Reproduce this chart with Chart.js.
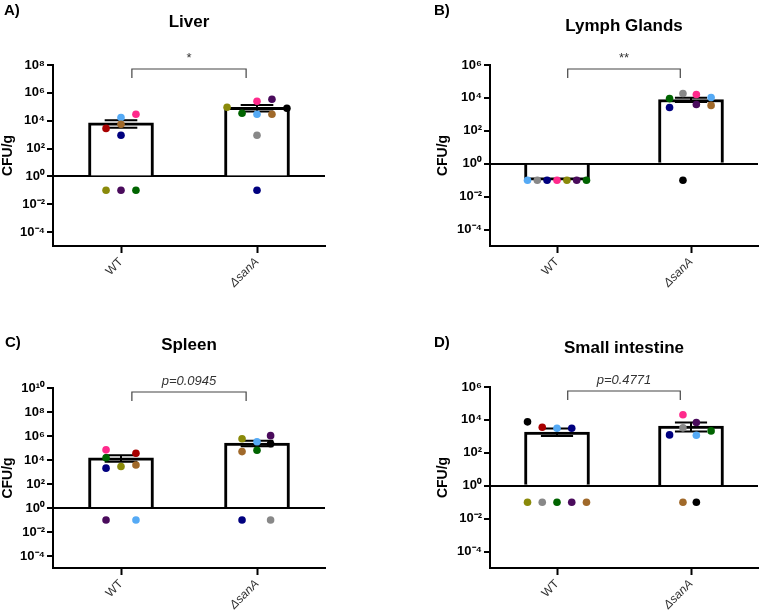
<!DOCTYPE html>
<html>
<head>
<title>CFU per organ</title>
<script src="https://cdn.jsdelivr.net/npm/chart.js"></script>
<style>
  body { margin: 0; background: #fff; }
  .panel { position: absolute; }
</style>
</head>
<body>
<div class="panel" style="left:0;top:0"><canvas id="liver" width="381" height="300"></canvas></div>
<div class="panel" style="left:381px;top:0"><canvas id="lymph" width="381" height="300"></canvas></div>
<div class="panel" style="left:0;top:300px"><canvas id="spleen" width="381" height="316"></canvas></div>
<div class="panel" style="left:381px;top:300px"><canvas id="intestine" width="381" height="316"></canvas></div>
<script>
const groups = ['WT', 'ΔsanA'];

// one colour per mouse
const mouseColors = {
    red: '#a80000', sky: '#55aaf5', pink: '#ff2a8c', brown: '#a0692a', navy: '#00007f',
    olive: '#8a8a0a', purple: '#4a0b5c', green: '#006400', grey: '#888888', black: '#000000'
};

// Liver
const liverWT = [2800, 17000, 29000, 5500, 900, 0.1, 0.1, 0.1];
const liverWTMice = ['red', 'sky', 'pink', 'brown', 'navy', 'olive', 'purple', 'green'];
const liverWTJitter = [-0.11, 0, 0.11, 0, 0, -0.11, 0, 0.11];
const liverKO = [92000, 34000, 250000, 29000, 900, 0.1, 350000, 29000, 78000];
const liverKOMice = ['olive', 'green', 'pink', 'sky', 'grey', 'navy', 'purple', 'brown', 'black'];
const liverKOJitter = [-0.22, -0.11, 0, 0, 0, 0, 0.11, 0.11, 0.22];
const liverMeans = [6900, 90000];
const liverSemLow = [3150, 46000];
const liverSemHigh = [10650, 134000];
const liverTicks = [1e-4, 1e-2, 1, 1e2, 1e4, 1e6, 1e8];

// Lymph glands
const lymphWT = [0.1, 0.1, 0.1, 0.1, 0.1, 0.1, 0.1];
const lymphWTMice = ['sky', 'grey', 'navy', 'pink', 'olive', 'purple', 'green'];
const lymphWTJitter = [-0.22, -0.147, -0.074, 0, 0.074, 0.147, 0.22];
const lymphKO = [9100, 2600, 18500, 0.1, 16000, 4000, 10500, 3500];
const lymphKOMice = ['green', 'navy', 'grey', 'black', 'pink', 'purple', 'sky', 'brown'];
const lymphKOJitter = [-0.16, -0.16, -0.06, -0.06, 0.04, 0.04, 0.15, 0.15];
const lymphMeans = [0.1, 8025];
const lymphSemLow = [null, 5670];
const lymphSemHigh = [null, 10400];
const lymphTicks = [1e-4, 1e-2, 1, 1e2, 1e4, 1e6];

// Spleen
const spleenWT = [70000, 36000, 15500, 3800, 2900, 2100, 0.1, 0.1];
const spleenWTMice = ['pink', 'red', 'green', 'brown', 'olive', 'navy', 'purple', 'sky'];
const spleenWTJitter = [-0.11, 0.11, -0.11, 0.11, 0, -0.11, -0.11, 0.11];
const spleenKO = [590000, 50000, 0.1, 330000, 65000, 1070000, 225000, 0.1];
const spleenKOMice = ['olive', 'brown', 'navy', 'sky', 'green', 'purple', 'black', 'grey'];
const spleenKOJitter = [-0.11, -0.11, -0.11, 0, 0, 0.1, 0.1, 0.1];
const spleenMeans = [15000, 260000];
const spleenSemLow = [7300, 140000];
const spleenSemHigh = [24800, 400000];
const spleenTicks = [1e-4, 1e-2, 1, 1e2, 1e4, 1e6, 1e8, 1e10];

// Small intestine
const intestineWT = [7600, 3600, 3100, 3100, 0.1, 0.1, 0.1, 0.1, 0.1];
const intestineWTMice = ['black', 'red', 'sky', 'navy', 'olive', 'grey', 'green', 'purple', 'brown'];
const intestineWTJitter = [-0.22, -0.11, 0, 0.11, -0.22, -0.11, 0, 0.11, 0.22];
const intestineKO = [20500, 3300, 0.1, 6900, 1170, 0.1, 1230, 2150];
const intestineKOMice = ['pink', 'grey', 'brown', 'purple', 'sky', 'black', 'navy', 'green'];
const intestineKOJitter = [-0.06, -0.06, -0.06, 0.04, 0.04, 0.04, -0.16, 0.15];
const intestineMeans = [1850, 4200];
const intestineSemLow = [1050, 1960];
const intestineSemHigh = [3000, 6850];
const intestineTicks = [1e-4, 1e-2, 1, 1e2, 1e4, 1e6];

Chart.defaults.font.family = "'Liberation Sans', Arial, sans-serif";
Chart.defaults.animation = false;

const supDigits = { '0': '⁰', '1': '¹', '2': '²', '3': '³', '4': '⁴', '5': '⁵', '6': '⁶', '7': '⁷', '8': '⁸', '9': '⁹', '-': '⁻' };
function powLabel(v) {
    const e = String(Math.round(Math.log10(v)));
    return '10' + e.split('').map(c => supDigits[c]).join('');
}

function makePanel(id, cfg) {
    const points = [];
    const colors = [];
    [[cfg.wt, cfg.wtMice, cfg.wtJitter], [cfg.ko, cfg.koMice, cfg.koJitter]].forEach(([vals, mice, jit], g) => {
        vals.forEach((v, i) => {
            points.push({ x: g + jit[i], y: v });
            colors.push(mouseColors[mice[i]]);
        });
    });

    const extras = {
        id: 'extras',
        afterDatasetDraw(chart, args) {
            if (args.index !== 0) return;
            const { ctx, scales: { x, y } } = chart;
            ctx.save();
            ctx.strokeStyle = '#000';
            ctx.lineWidth = 2;
            cfg.means.forEach((m, i) => {
                if (cfg.semLow[i] == null) return;
                const cx = x.getPixelForValue(i);
                const hw = x.getPixelForValue(i + 0.12) - cx;
                const yl = y.getPixelForValue(cfg.semLow[i]);
                const yh = y.getPixelForValue(cfg.semHigh[i]);
                ctx.beginPath();
                ctx.moveTo(cx, yl); ctx.lineTo(cx, yh);
                ctx.moveTo(cx - hw, yl); ctx.lineTo(cx + hw, yl);
                ctx.moveTo(cx - hw, yh); ctx.lineTo(cx + hw, yh);
                ctx.stroke();
            });
            ctx.restore();
        },
        afterDraw(chart) {
            const { ctx, chartArea, scales: { x } } = chart;
            const mid = (chartArea.left + chartArea.right) / 2;
            ctx.save();
            ctx.fillStyle = '#000';
            ctx.textBaseline = 'middle';
            ctx.textAlign = 'center';
            ctx.font = "bold 17px 'Liberation Sans', Arial, sans-serif";
            ctx.fillText(cfg.title, mid, cfg.titleY);
            ctx.textAlign = 'left';
            ctx.font = "bold 15px 'Liberation Sans', Arial, sans-serif";
            ctx.fillText(cfg.letter, cfg.letterX, cfg.letterY);

            // significance bracket
            const x0 = x.getPixelForValue(0.08);
            const x1 = x.getPixelForValue(0.92);
            const by = chartArea.top + 4;
            ctx.strokeStyle = '#444';
            ctx.lineWidth = 1.2;
            ctx.beginPath();
            ctx.moveTo(x0, by + 9); ctx.lineTo(x0, by); ctx.lineTo(x1, by); ctx.lineTo(x1, by + 9);
            ctx.stroke();
            ctx.fillStyle = '#333';
            ctx.textAlign = 'center';
            ctx.textBaseline = 'alphabetic';
            ctx.font = (cfg.sig.startsWith('p') ? 'italic ' : '') + "13px 'Liberation Sans', Arial, sans-serif";
            ctx.fillText(cfg.sig, x.getPixelForValue(0.5), chartArea.top - 3);
            ctx.restore();
        }
    };

    return new Chart(document.getElementById(id), {
        type: 'bar',
        data: {
            datasets: [{
                type: 'bar',
                data: cfg.means.map((m, i) => ({ x: i, y: m })),
                base: 1,
                backgroundColor: '#fff',
                borderColor: '#000',
                borderWidth: 3,
                barThickness: 65,
                order: 2
            }, {
                type: 'scatter',
                data: points,
                pointBackgroundColor: colors,
                pointBorderWidth: 0,
                pointRadius: 3.8,
                order: 1
            }]
        },
        options: {
            responsive: false,
            layout: { padding: cfg.padding },
            plugins: { legend: { display: false }, tooltip: { enabled: false } },
            scales: {
                x: {
                    type: 'linear', min: -0.5, max: 1.5, offset: false,
                    afterBuildTicks: s => { s.ticks = [{ value: 0 }, { value: 1 }]; },
                    afterFit: s => { s.height = cfg.xHeight; },
                    ticks: {
                        callback: v => groups[v],
                        minRotation: 45, maxRotation: 45,
                        color: '#333',
                        padding: 2,
                        font: c => ({ size: 12, style: c.index === 1 ? 'italic' : 'normal' })
                    },
                    grid: { offset: false, drawOnChartArea: false, tickLength: 7, tickWidth: 2, tickColor: '#000' },
                    border: { color: '#000', width: 2 }
                },
                y: {
                    type: 'logarithmic', min: 1e-5, max: cfg.max, z: 1,
                    afterBuildTicks: s => { s.ticks = cfg.ticks.map(v => ({ value: v })); },
                    afterFit: s => { s.width = cfg.yWidth; },
                    ticks: {
                        callback: v => powLabel(v),
                        autoSkip: false,
                        color: '#000',
                        padding: 2,
                        font: { size: 13, weight: 'bold' }
                    },
                    grid: {
                        color: c => (c.tick && c.tick.value === 1) ? '#000' : 'rgba(0,0,0,0)',
                        lineWidth: 2, tickLength: 6, tickWidth: 2, tickColor: '#000'
                    },
                    border: { color: '#000', width: 2 },
                    title: { display: true, text: 'CFU/g', color: '#000', padding: 0, font: { size: 14, weight: 'bold' } }
                }
            }
        },
        plugins: [extras]
    });
}

makePanel('liver', {
    title: 'Liver', letter: 'A)', letterX: 4, letterY: 11, titleY: 22, sig: '*',
    wt: liverWT, wtMice: liverWTMice, wtJitter: liverWTJitter,
    ko: liverKO, koMice: liverKOMice, koJitter: liverKOJitter,
    means: liverMeans, semLow: liverSemLow, semHigh: liverSemHigh,
    ticks: liverTicks, max: 1e8,
    padding: { left: 0, top: 65, right: 56, bottom: 0 }, yWidth: 53, xHeight: 54
});
makePanel('lymph', {
    title: 'Lymph Glands', letter: 'B)', letterX: 53, letterY: 11, titleY: 26, sig: '**',
    wt: lymphWT, wtMice: lymphWTMice, wtJitter: lymphWTJitter,
    ko: lymphKO, koMice: lymphKOMice, koJitter: lymphKOJitter,
    means: lymphMeans, semLow: lymphSemLow, semHigh: lymphSemHigh,
    ticks: lymphTicks, max: 1e6,
    padding: { left: 54, top: 65, right: 0, bottom: 0 }, yWidth: 55, xHeight: 54
});
makePanel('spleen', {
    title: 'Spleen', letter: 'C)', letterX: 5, letterY: 43, titleY: 45, sig: 'p=0.0945',
    wt: spleenWT, wtMice: spleenWTMice, wtJitter: spleenWTJitter,
    ko: spleenKO, koMice: spleenKOMice, koJitter: spleenKOJitter,
    means: spleenMeans, semLow: spleenSemLow, semHigh: spleenSemHigh,
    ticks: spleenTicks, max: 1e10,
    padding: { left: 0, top: 88, right: 56, bottom: 0 }, yWidth: 53, xHeight: 48
});
makePanel('intestine', {
    title: 'Small intestine', letter: 'D)', letterX: 53, letterY: 43, titleY: 48, sig: 'p=0.4771',
    wt: intestineWT, wtMice: intestineWTMice, wtJitter: intestineWTJitter,
    ko: intestineKO, koMice: intestineKOMice, koJitter: intestineKOJitter,
    means: intestineMeans, semLow: intestineSemLow, semHigh: intestineSemHigh,
    ticks: intestineTicks, max: 1e6,
    padding: { left: 54, top: 87, right: 0, bottom: 0 }, yWidth: 55, xHeight: 48
});
</script>
</body>
</html>
